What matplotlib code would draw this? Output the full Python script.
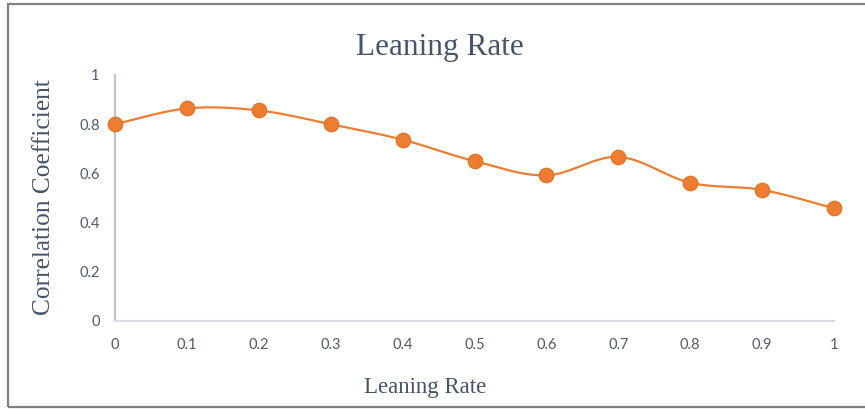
import numpy as np
import matplotlib.pyplot as plt
from matplotlib.patches import Rectangle

rates = [0, 0.1, 0.2, 0.3, 0.4, 0.5, 0.6, 0.7, 0.8, 0.9, 1.0]
corr = [0.80, 0.864, 0.856, 0.80, 0.737, 0.65, 0.592, 0.667, 0.562, 0.533, 0.458]
xticks = [0, 0.1, 0.2, 0.3, 0.4, 0.5, 0.6, 0.7, 0.8, 0.9, 1]
xtick_labels = ["0", "0.1", "0.2", "0.3", "0.4", "0.5", "0.6", "0.7", "0.8", "0.9", "1"]
yticks = [0, 0.2, 0.4, 0.6, 0.8, 1]
ytick_labels = ["0", "0.2", "0.4", "0.6", "0.8", "1"]

orange = "#ED7D31"
slate = "#44546A"
tick_col = "#4F5A6B"


def smooth(x, y, n=40):
    # cubic bezier through the points, control points from neighbour slopes
    p = np.column_stack([x, y])
    p = np.vstack([p[0], p, p[-1]])
    out = []
    t = np.linspace(0, 1, n)[:, None]
    for i in range(1, len(p) - 2):
        a = p[i]
        d = p[i + 1]
        b = a + (p[i + 1] - p[i - 1]) / 6
        c = d - (p[i + 2] - p[i]) / 6
        seg = (1 - t) ** 3 * a + 3 * (1 - t) ** 2 * t * b + 3 * (1 - t) * t ** 2 * c + t ** 3 * d
        out.append(seg if i == 1 else seg[1:])
    out = np.vstack(out)
    return out[:, 0], out[:, 1]


fig = plt.figure(figsize=(8.65, 4.09), dpi=100)
ax = fig.add_axes([115 / 865, 88 / 409, 719 / 865, 246 / 409])

sx, sy = smooth(rates, corr)
ax.plot(sx, sy, color=orange, lw=1.6, clip_on=False, zorder=3)
ax.plot(rates, corr, linestyle="none", marker="o", markersize=10.5,
        markerfacecolor=orange, markeredgecolor="#E06F22", markeredgewidth=0.8,
        clip_on=False, zorder=4)

ax.set_xlim(0, 1)
ax.set_ylim(0, 1)
ax.set_xticks(xticks)
ax.set_xticklabels(xtick_labels)
ax.set_yticks(yticks)
ax.set_yticklabels(ytick_labels)
ax.tick_params(length=0, labelsize=10.5, labelcolor=tick_col)
ax.tick_params(axis="y", pad=11)
ax.tick_params(axis="x", pad=12)
for lab in ax.get_xticklabels() + ax.get_yticklabels():
    lab.set_family("Lato")

for side in ["top", "right"]:
    ax.spines[side].set_visible(False)
ax.spines["left"].set_color("#BFC6D1")
ax.spines["left"].set_linewidth(1.5)
ax.spines["bottom"].set_color("#D9DCE2")
ax.spines["bottom"].set_linewidth(1.5)

fig.text(0.508, 1 - 55 / 409, "Leaning Rate", ha="center", va="baseline",
         fontsize=22.5, color=slate, family="Liberation Serif")
fig.text(0.491, 1 - 393 / 409, "Leaning Rate", ha="center", va="baseline",
         fontsize=16.5, color=slate, family="Liberation Serif")
fig.text(44 / 865, 1 - 197 / 409, "Correlation Coefficient", ha="center", va="center",
         rotation=90, fontsize=18.3, color=slate, family="Liberation Serif")

# outer frame of the chart area
fig.patches.append(Rectangle((8 / 865, 2 / 409), 1.0, 403 / 409, transform=fig.transFigure,
                             fill=False, edgecolor="#808080", linewidth=1.6))

fig.savefig("out.png", dpi=100)
